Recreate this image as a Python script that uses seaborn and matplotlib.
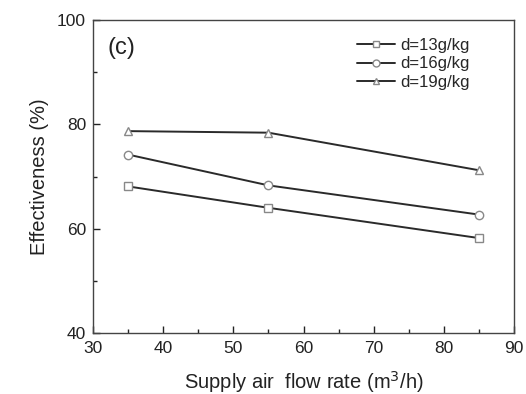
import matplotlib
matplotlib.use("Agg")
import matplotlib.pyplot as plt
import seaborn as sns
import pandas as pd
from matplotlib.ticker import MultipleLocator

flow_rate = [35, 55, 85]
eff_13 = [68.1, 64.0, 58.2]
eff_16 = [74.2, 68.3, 62.7]
eff_19 = [78.7, 78.4, 71.2]
series_labels = ["d=13g/kg", "d=16g/kg", "d=19g/kg"]

sns.set_theme(style="ticks")
plt.rcParams['font.family'] = ['Liberation Sans', 'DejaVu Sans']

df = pd.DataFrame({
    "flow": flow_rate * 3,
    "eff": eff_13 + eff_16 + eff_19,
    "series": [series_labels[0]] * 3 + [series_labels[1]] * 3 + [series_labels[2]] * 3,
})

fig = plt.figure(figsize=(5.26, 3.94), dpi=100)
L, R, T, B = 93, 514, 20, 333
ax = fig.add_axes([L / 526, 1 - B / 394, (R - L) / 526, (B - T) / 394])

markers = {series_labels[0]: "s", series_labels[1]: "o", series_labels[2]: "^"}
sns.lineplot(data=df, x="flow", y="eff", hue="series", style="series",
             markers=markers, dashes=False, palette=["#2a2a2a"] * 3,
             linewidth=1.4, markersize=6, markerfacecolor="white",
             markeredgecolor="#888888", markeredgewidth=1.0, ax=ax)

ax.set_xlim(30, 90)
ax.set_ylim(40, 100)
ax.xaxis.set_major_locator(MultipleLocator(10))
ax.xaxis.set_minor_locator(MultipleLocator(5))
ax.yaxis.set_major_locator(MultipleLocator(20))
ax.yaxis.set_minor_locator(MultipleLocator(10))
ax.tick_params(which="both", direction="in", top=False, right=False, labelsize=12.5, colors="#222222")
ax.tick_params(which="major", length=5, width=1)
ax.tick_params(which="minor", length=3, width=1)
ax.tick_params(axis="x", which="major", pad=6)
ax.tick_params(axis="y", which="major", pad=5)
for s in ax.spines.values():
    s.set_visible(True)
    s.set_linewidth(1.0)
    s.set_color("#444444")

ax.set_xlabel("Supply air  flow rate (m$^3$/h)", fontsize=14.5, color="#222222", labelpad=9)
ax.set_ylabel("Effectiveness (%)", fontsize=14.5, color="#222222", labelpad=6)

ax.text(0.035, 0.91, "(c)", transform=ax.transAxes, fontsize=17, color="#222222", va="center")

leg = ax.legend(loc="upper right", frameon=False, fontsize=12, handlelength=2.3,
                handletextpad=0.3, labelspacing=0.2, borderaxespad=0.5,
                bbox_to_anchor=(0.93, 0.99))
for h in leg.legend_handles:
    h.set_markersize(5)
    h.set_markerfacecolor("white")
    h.set_markeredgecolor("#888888")

fig.savefig("out.png", dpi=100)
